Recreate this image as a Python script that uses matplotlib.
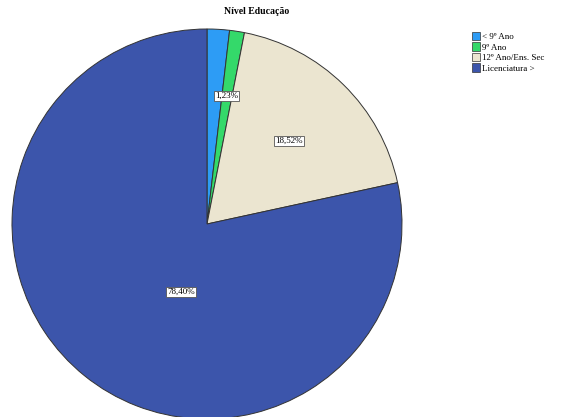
import matplotlib.pyplot as plt
from matplotlib.patches import Patch

plt.rcParams['font.family'] = ['Liberation Serif', 'DejaVu Serif']

categories = ['< 9º Ano', '9º Ano', '12º Ano/Ens. Sec', 'Licenciatura >']
values = [1.85, 1.23, 18.52, 78.40]
colors = ['#2d9cf5', '#34d96a', '#ebe5d0', '#3c55ab']

# label text and where it sits inside the pie (data units, radius 1)
label_idx = [1, 2, 3]
label_pos = [(0.10, 0.656), (0.42, 0.426), (-0.133, -0.349)]

fig = plt.figure(figsize=(5.65, 4.17), dpi=100)
ax = fig.add_axes([12 / 565, -2 / 417, 390 / 565, 390 / 417])

ax.pie(values, colors=colors, startangle=90, counterclock=False, radius=1,
       wedgeprops=dict(edgecolor='#333333', linewidth=0.7))
ax.set_xlim(-1, 1)
ax.set_ylim(-1, 1)
ax.set_aspect('equal')
ax.axis('off')

for i, (x, y) in zip(label_idx, label_pos):
    txt = f'{values[i]:.2f}%'.replace('.', ',')
    ax.text(x, y, txt, ha='center', va='center', fontsize=6.5,
            bbox=dict(boxstyle='square,pad=0.15', facecolor='white',
                      edgecolor='#555555', linewidth=0.6))

fig.text(257 / 565, 1 - 12 / 417, 'Nível Educação', ha='center', va='center',
         fontsize=7, fontweight='bold')

handles = [Patch(facecolor=c, edgecolor='#333333', linewidth=0.5) for c in colors]
fig.legend(handles, categories, loc='upper left', bbox_to_anchor=(472 / 565, 1 - 32 / 417),
           frameon=False, fontsize=6.5, handlelength=0.9, handleheight=1.0,
           handletextpad=0.2, labelspacing=0.15, borderpad=0, borderaxespad=0)

fig.savefig('out.png', dpi=100)
